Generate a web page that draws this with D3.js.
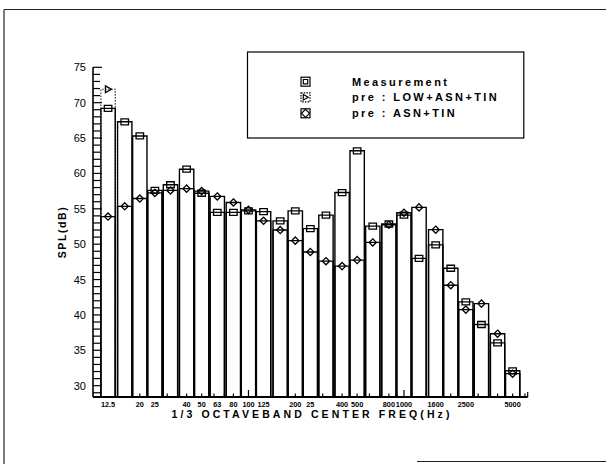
<!DOCTYPE html>
<html>
<head>
<meta charset="utf-8">
<script src="https://cdn.jsdelivr.net/npm/d3@7"></script>
<style>
  body { margin: 0; background: #fff; }
  svg { display: block; }
  text { font-family: "Liberation Sans", Arial, sans-serif; fill: #000; }
</style>
</head>
<body>
<svg id="chart" width="606" height="464"></svg>
<script>
// 1/3-octave band centre frequencies (Hz)
const bands = [12.5, 16, 20, 25, 31.5, 40, 50, 63, 80, 100, 125, 160, 200, 250, 315,
               400, 500, 630, 800, 1000, 1250, 1600, 2000, 2500, 3150, 4000, 5000];

// Sound pressure level per band, dB
const measurement = [69.2, 67.3, 65.3, 57.6, 58.4, 60.6, 57.2, 54.5, 54.5, 54.7, 54.6, 53.3, 54.7, 52.2, 54.1,
                     57.3, 63.2, 52.55, 52.85, 54.1, 48.0, 49.9, 46.6, 41.85, 38.65, 36.05, 32.1];
const preLowAsnTin = [71.9, null, null, null, null, null, null, null, null, null, null, null, null, null, null,
                      null, null, null, null, null, null, null, null, null, null, null, null];
const preAsnTin = [53.9, 55.35, 56.45, 57.25, 57.6, 57.85, 57.5, 56.75, 55.9, 54.85, 53.3, 52.0, 50.5, 48.9, 47.6,
                   46.9, 47.75, 50.25, 52.75, 54.45, 55.2, 52.05, 44.2, 40.75, 41.6, 37.35, 31.7];

// Axis text
const xTickLabels = ["12.5", "20", "25", "40", "50", "63", "80", "100", "125", "200", "25", "400", "500",
                     "800", "1000", "1600", "2500", "5000"];
const xTickFreqs = [12.5, 20, 25, 40, 50, 63, 80, 100, 125, 200, 250, 400, 500, 800, 1000, 1600, 2500, 5000];
const yTickValues = [30, 35, 40, 45, 50, 55, 60, 65, 70, 75];
const legendLabels = ["Measurement", "pre : LOW+ASN+TIN", "pre : ASN+TIN"];
const xTitle = "1/3 OCTAVEBAND CENTER FREQ(Hz)";
const yTitle = "SPL(dB)";

const svg = d3.select("#chart");
const ink = "#000";

// Scales: log frequency on x, linear level on y
const x = d3.scaleLog().domain([10, 6250]).range([93, 527.7]);
const y = d3.scaleLinear().domain([28.4, 75]).range([397, 67.3]);
const yBase = y.range()[0];
const halfBand = Math.pow(2, 0.46 / 3);   // bar half-width as a frequency ratio

// Sheet border lines
const frame = svg.append("g").attr("stroke", "#222").attr("stroke-width", 1.2).attr("fill", "none");
frame.append("line").attr("x1", 4).attr("y1", 9.5).attr("x2", 606).attr("y2", 9.5);
frame.append("line").attr("x1", 4).attr("y1", 9.5).attr("x2", 4).attr("y2", 464);
frame.append("line").attr("x1", 417).attr("y1", 461.5).attr("x2", 606).attr("y2", 461.5);

// Bars: open outlines standing on the x axis, one set per series
function barPath(f, v) {
  const x0 = x(f / halfBand), x1 = x(f * halfBand);
  return `M${x0},${yBase}V${y(v)}H${x1}V${yBase}`;
}
function drawBars(values, dashed) {
  svg.append("g")
    .selectAll("path")
    .data(bands.map((f, i) => ({ f, v: values[i] })).filter(d => d.v != null))
    .join("path")
    .attr("d", d => barPath(d.f, d.v))
    .attr("fill", "none")
    .attr("stroke", dashed ? "#333" : ink)
    .attr("stroke-width", dashed ? 1.1 : 1.4)
    .attr("stroke-dasharray", dashed ? "1.6,1.4" : null);
}
drawBars(preLowAsnTin, true);
drawBars(measurement, false);
drawBars(preAsnTin, false);

// Marker shapes
const squareMarker = (cx, cy, w, h) => `M${cx - w / 2},${cy - h / 2}h${w}v${h}h${-w}Z`;
const diamondMarker = (cx, cy, r) => `M${cx},${cy - r}L${cx + r},${cy}L${cx},${cy + r}L${cx - r},${cy}Z`;
const triangleMarker = (cx, cy, r) => `M${cx - r * 0.8},${cy - r}L${cx + r},${cy}L${cx - r * 0.8},${cy + r}Z`;

function drawMarkers(values, shape) {
  svg.append("g")
    .selectAll("path")
    .data(bands.map((f, i) => ({ f, v: values[i] })).filter(d => d.v != null))
    .join("path")
    .attr("d", d => shape(x(d.f), y(d.v)))
    .attr("fill", "none")
    .attr("stroke", ink)
    .attr("stroke-width", 1.3);
}
drawMarkers(preLowAsnTin, (cx, cy) => triangleMarker(cx, cy, 3.3));
drawMarkers(measurement, (cx, cy) => squareMarker(cx, cy, 7.5, 6));
drawMarkers(preAsnTin, (cx, cy) => diamondMarker(cx, cy, 3.6));

// Y axis: line, 1 dB minor ticks and 5 dB major ticks pointing inward
const yAxis = svg.append("g").attr("stroke", ink).attr("fill", "none");
yAxis.append("line").attr("x1", x.range()[0]).attr("x2", x.range()[0])
  .attr("y1", y.range()[1]).attr("y2", yBase).attr("stroke-width", 1.6);
yAxis.selectAll("line.minor")
  .data(d3.range(29, 76))
  .join("line").attr("class", "minor")
  .attr("x1", x.range()[0]).attr("x2", d => x.range()[0] + (d % 5 === 0 ? 9 : 7))
  .attr("y1", d => y(d)).attr("y2", d => y(d))
  .attr("stroke-width", 1.2);
svg.append("g").selectAll("text")
  .data(yTickValues)
  .join("text")
  .attr("x", 86).attr("y", d => y(d)).attr("dy", "0.36em")
  .attr("text-anchor", "end")
  .attr("font-size", 11)
  .text(d => d);

// X axis: baseline with log-spaced ticks pointing inward
const xAxis = svg.append("g").attr("stroke", ink).attr("fill", "none");
xAxis.append("line").attr("x1", x.range()[0]).attr("x2", x.range()[1])
  .attr("y1", yBase).attr("y2", yBase).attr("stroke-width", 1.8);
const logTicks = x.ticks().filter(t => t > 10 && t <= 6250);
xAxis.selectAll("line.tick")
  .data(logTicks)
  .join("line").attr("class", "tick")
  .attr("x1", d => x(d)).attr("x2", d => x(d))
  .attr("y1", yBase).attr("y2", d => yBase - (Math.log10(d) % 1 === 0 ? 7 : 3.5))
  .attr("stroke-width", 1.2);
xAxis.append("line").attr("x1", x.range()[1]).attr("x2", x.range()[1])
  .attr("y1", yBase).attr("y2", yBase - 5).attr("stroke-width", 1.2);

svg.append("g").selectAll("text")
  .data(xTickLabels)
  .join("text")
  .attr("x", (d, i) => x(xTickFreqs[i]))
  .attr("y", 406.8)
  .attr("text-anchor", "middle")
  .attr("font-size", 7.3)
  .attr("font-weight", "bold")
  .text(d => d);

// Axis titles
svg.append("text")
  .attr("x", 312).attr("y", 418)
  .attr("text-anchor", "middle")
  .attr("font-size", 10.5).attr("font-weight", "bold")
  .attr("letter-spacing", 3.1)
  .text(xTitle);
svg.append("text")
  .attr("transform", "translate(66,232) rotate(-90)")
  .attr("text-anchor", "middle")
  .attr("font-size", 10.5).attr("font-weight", "bold")
  .attr("letter-spacing", 1.6)
  .text(yTitle);

// Legend
const legend = svg.append("g");
legend.append("rect")
  .attr("x", 247.5).attr("y", 52).attr("width", 276.3).attr("height", 86)
  .attr("fill", "#fff").attr("stroke", ink).attr("stroke-width", 1.2);
const rowY = [81.7, 97.3, 113.3];
const iconX = 305.5;
legendLabels.forEach((label, i) => {
  const cy = rowY[i];
  legend.append("rect")
    .attr("x", iconX - 4.5).attr("y", cy - 4.5).attr("width", 9).attr("height", 9)
    .attr("fill", "none").attr("stroke", ink).attr("stroke-width", 1.2)
    .attr("stroke-dasharray", i === 1 ? "1.5,1.2" : null);
  const inner = i === 0 ? squareMarker(iconX, cy, 4.4, 4.4)
              : i === 1 ? triangleMarker(iconX, cy, 2.8)
              : diamondMarker(iconX, cy, 4);
  legend.append("path").attr("d", inner)
    .attr("fill", "none").attr("stroke", ink).attr("stroke-width", 1.2);
  legend.append("text")
    .attr("x", 352).attr("y", cy).attr("dy", "0.36em")
    .attr("font-size", 11).attr("font-weight", "bold")
    .attr("letter-spacing", 2.4)
    .text(label);
});
</script>
</body>
</html>
